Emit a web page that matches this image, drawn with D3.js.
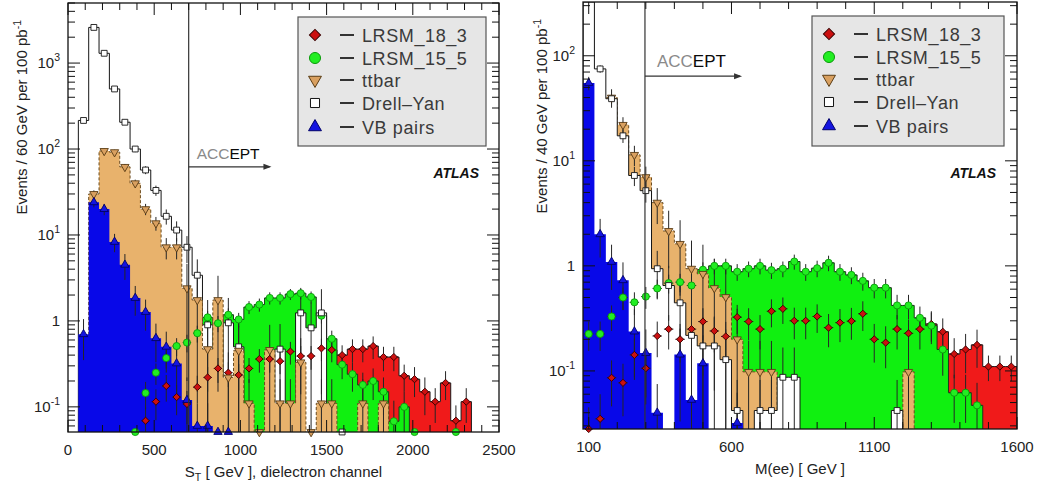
<!DOCTYPE html>
<html>
<head>
<meta charset="utf-8">
<script src="https://cdn.jsdelivr.net/npm/d3@7"></script>
<style>
  body { margin: 0; background: #fff; }
  svg { display: block; font-family: "Liberation Sans", Arial, sans-serif; }
</style>
</head>
<body>
<div id="chart"></div>
<script>
// ---- S_T panel: 60 GeV bins starting at 0 ----
const stBinStart = 0, stBinWidth = 60;
const stDrellYan    = [null, 215, 2600, 1300, 500, 205, 100, 57, 33, 16.5, 11.4, 7.2, 3.4, 0.9, null, 0.95, 0.5, null, null, null, 0.47, null, 1.24, 0.83, 1.24, null, 0, null, null, null, null, null, null, null, null, null, null, null, null];
const stDrellYanErr = [null, 12, 50, 35, 20, 12, 8, 6, 4.5, 3.3, 3, 2.5, 1.8, 0.85, null, 0.9, 0.48, null, null, null, 0.45, null, 1.1, 0.8, 1.1, null, null, null, null, null, null, null, null, null, null, null, null, null, null];
const stTtbar       = [null, null, 30, 95, 92, 62, 40, 20, 13.7, 7.2, 7.2, 2.4, 1.75, 0.47, 1.75, 0.22, 0.45, 0.11, 0, 0.46, 0.11, 0.11, 0.33, 0, 0.11, 0.11, null, null, 0.11, null, 0.11, null, null, null, null, null, null, null, null];
const stTtbarErr    = [null, null, 3, 6, 6, 5, 4, 3, 2.5, 2, 2, 2.2, 1.6, 0.45, 1.6, 0.21, 0.42, 0.1, null, 0.44, 0.1, 0.1, 0.3, null, 0.1, 0.1, null, null, 0.1, null, 0.1, null, null, null, null, null, null, null, null];
const stVBPairs     = [null, 0.7, 24, 20, 8.3, 4.5, 1.85, 1.27, 0.63, 0.5, 0.32, 0.12, 0.06, 0.06, 0, 0, null, null, null, null, null, null, null, null, null, null, null, null, null, null, null, null, null, null, null, null, null, null, null];
const stVBPairsErr  = [null, 0.35, 3, 3, 2, 1.5, 0.7, 0.5, 0.3, 0.25, 0.2, 0.1, 0.05, 0.05, null, null, null, null, null, null, null, null, null, null, null, null, null, null, null, null, null, null, null, null, null, null, null, null, null];
const stLRSM155     = [null, null, null, null, null, null, 0, 0.145, 0.25, 0.37, 0.51, 0.56, 0.72, 1.1, 0.94, 1.18, 1.04, 1.45, 1.55, 1.85, 1.85, 2.05, 2.1, 1.9, 1.15, 0.62, 0.31, 0.24, 0.18, 0.2, 0.15, 0.068, 0.1, 0, null, null, null, 0, null];
const stLRSM155Err  = [null, null, null, null, null, null, null, 0.05, 0.07, 0.09, 0.12, 0.13, 0.16, 0.2, 0.2, 0.22, 0.2, 0.25, 0.27, 0.3, 0.3, 0.3, 0.32, 0.3, 0.22, 0.15, 0.1, 0.09, 0.07, 0.08, 0.07, 0.05, 0.05, null, null, null, null, null, null];
const stLRSM183     = [null, null, null, null, null, null, null, 0.069, 0.115, 0.175, 0.13, 0.108, 0.17, 0.22, 0.28, 0.25, 0.235, 0.28, 0.36, 0.36, 0.34, 0.44, 0.39, 0.39, 0.48, 0.46, 0.4, 0.47, 0.47, 0.51, 0.38, 0.38, 0.23, 0.21, 0.15, 0.115, 0.19, 0.069, 0.115];
const stLRSM183Err  = [null, null, null, null, null, null, null, 0.03, 0.045, 0.06, 0.05, 0.045, 0.06, 0.07, 0.09, 0.08, 0.08, 0.09, 0.11, 0.11, 0.1, 0.13, 0.12, 0.12, 0.14, 0.13, 0.12, 0.14, 0.14, 0.15, 0.12, 0.12, 0.08, 0.08, 0.07, 0.05, 0.07, 0.035, 0.05];

// ---- M(ee) panel: 40 GeV bins starting at 80 ----
const meeBinStart = 80, meeBinWidth = 40;
const meeDrellYan    = [5000, 75, 39, 17.3, 7.25, 5.2, 0.94, 0.65, 0.445, 0.218, 0.173, 0.173, 0.128, 0.042, null, 0.042, 0.042, 0.087, 0.087, null, null, null, null, null, null, null, null, 0.042, null, null, null, null, null, null, null, null, null, null];
const meeDrellYanErr = [null, 6, 4, 2.5, 1.5, 1.2, 0.45, 0.35, 0.3, 0.18, 0.15, 0.15, 0.12, 0.04, null, 0.04, 0.04, 0.08, 0.08, null, null, null, null, null, null, null, null, 0.04, null, null, null, null, null, null, null, null, null, null];
const meeTtbar       = [null, null, 40, 22, 11.4, 7.0, 4.0, 2.15, 1.62, 0.94, 0.84, 0.615, 0.505, 0.2, 0.098, 0.098, 0.098, null, null, null, null, null, null, null, null, null, null, null, 0.098, null, null, null, null, null, null, null, null, null];
const meeTtbarErr    = [null, null, 8, 4, 2.5, 1.8, 1.5, 1.2, 1.1, 0.8, 0.75, 0.55, 0.48, 0.19, 0.095, 0.095, 0.095, null, null, null, null, null, null, null, null, null, null, null, 0.095, null, null, null, null, null, null, null, null, null];
const meeVBPairs     = [55, 2.0, 1.09, 0.73, 0.237, 0.148, 0.04, null, 0.143, 0.053, 0.118, null, null, 0.032, null, null, null, null, null, null, null, null, null, null, null, null, null, null, null, null, null, null, null, null, null, null, null, null];
const meeVBPairsErr  = [8, 0.8, 0.5, 0.35, 0.15, 0.1, 0.035, null, 0.11, 0.045, 0.1, null, null, 0.03, null, null, null, null, null, null, null, null, null, null, null, null, null, null, null, null, null, null, null, null, null, null, null, null];
const meeLRSM155     = [0.225, 0.225, 0.33, 0.50, 0.45, 0.51, 0.61, 0.685, 0.70, 0.65, 0.92, 1.0, 1.0, 0.88, 0.94, 1.0, 0.91, 0.94, 1.1, 0.88, 0.95, 1.07, 0.88, 0.82, 0.72, 0.62, 0.62, 0.42, 0.42, 0.32, 0.27, 0.16, 0.062, 0.062, 0.047, null, null, null];
const meeLRSM155Err  = [0.07, 0.07, 0.09, 0.12, 0.11, 0.12, 0.13, 0.14, 0.14, 0.13, 0.16, 0.17, 0.17, 0.16, 0.16, 0.17, 0.16, 0.16, 0.18, 0.16, 0.17, 0.18, 0.16, 0.15, 0.14, 0.13, 0.13, 0.11, 0.11, 0.09, 0.09, 0.07, 0.03, 0.03, 0.03, null, null, null];
const meeLRSM183     = [0, 0.035, 0.086, 0.077, 0.142, 0.106, 0.215, 0.25, 0.2, 0.25, 0.295, 0.24, 0.213, 0.325, 0.295, 0.25, 0.37, 0.39, 0.3, 0.3, 0.33, 0.258, 0.288, 0.298, 0.35, 0.2, 0.186, 0.25, 0.228, 0.25, 0.28, 0.236, 0.145, 0.16, 0.177, 0.11, 0.11, 0.11];
const meeLRSM183Err  = [0.045, 0.025, 0.04, 0.04, 0.06, 0.05, 0.08, 0.09, 0.08, 0.09, 0.1, 0.09, 0.08, 0.1, 0.1, 0.09, 0.11, 0.11, 0.1, 0.1, 0.1, 0.09, 0.1, 0.1, 0.11, 0.08, 0.08, 0.09, 0.08, 0.09, 0.09, 0.08, 0.06, 0.065, 0.07, 0.03, 0.03, 0.03];

// axis ticks and labels
const stXTicks = [0, 500, 1000, 1500, 2000, 2500];
const meeXTicks = [100, 600, 1100, 1600];
const stYTicks = [0.1, 1, 10, 100, 1000];
const meeYTicks = [0.1, 1, 10, 100];
const legendNames = ['LRSM_18_3', 'LRSM_15_5', 'ttbar', 'Drell\u2013Yan', 'VB pairs'];

// acceptance cuts: [cut, arrow end, arrow height]
const stAccept = [700, 1180, 62];
const meeAccept = [297, 637, 64];

const width = 1038, height = 485;

const style = {
  red:   { fill: '#f01a1a', stroke: '#1a1a1a', dash: null, sym: 'diamond', mFill: '#cc1010', mStroke: '#3a0000', cross: true },
  green: { fill: '#10f010', stroke: '#1c3a1c', dash: null, sym: 'circle', mFill: '#22ee22', mStroke: '#0a9a0a', cross: true },
  tt:    { fill: '#e8b26c', stroke: '#6b4b1f', dash: '3,2', sym: 'tdown', mFill: '#d9a060', mStroke: '#5a3c14', cross: false },
  dy:    { fill: '#ffffff', stroke: '#151515', dash: null, sym: 'square', mFill: '#ffffff', mStroke: '#151515', cross: false },
  vb:    { fill: '#0808e8', stroke: 'none', dash: null, sym: 'tup', mFill: '#1414e0', mStroke: '#00006a', cross: false }
};
const legendKeys = ['red', 'green', 'tt', 'dy', 'vb'];

const svg = d3.select('div#chart').append('svg')
  .attr('width', width)
  .attr('height', height);

function markerPath(sym, k) {
  k = k || 1;
  if (sym === 'diamond') return { d: d3.symbol(d3.symbolSquare, 26 * k * k)(), rot: 45 };
  if (sym === 'circle') return { d: d3.symbol(d3.symbolCircle, 40 * k * k)(), rot: 0 };
  if (sym === 'square') return { d: d3.symbol(d3.symbolSquare, 34 * k * k)(), rot: 0 };
  if (sym === 'tdown') return { d: d3.symbol(d3.symbolTriangle, 30 * k * k)(), rot: 180 };
  return { d: d3.symbol(d3.symbolTriangle, 30 * k * k)(), rot: 0 };
}

function drawPanel(p) {
  const f = p.frame;
  const x = d3.scaleLinear().domain(p.xDomain).range([f.x0, f.x1]);
  const y = d3.scaleLog().domain(p.yDomain).range([f.y1, f.y0]).clamp(true);
  const g = svg.append('g');

  const clipId = 'clip-' + p.id;
  svg.append('defs').append('clipPath').attr('id', clipId)
    .append('rect').attr('x', f.x0).attr('y', f.y0)
    .attr('width', f.x1 - f.x0).attr('height', f.y1 - f.y0);

  const plot = g.append('g').attr('clip-path', 'url(#' + clipId + ')');
  const yBase = f.y1 + 3;

  // filled histograms, back to front
  p.series.forEach(s => {
    const st = style[s.key];
    let d = '', open = false, lastX = 0;
    s.values.forEach((v, i) => {
      const xa = x(p.binStart + i * p.binWidth), xb = x(p.binStart + (i + 1) * p.binWidth);
      if (v != null && v > 0) {
        const yy = y(v);
        d += open ? `L${xa},${yy}` : `M${xa},${yBase}L${xa},${yy}`;
        d += `L${xb},${yy}`;
        open = true; lastX = xb;
      } else if (open) {
        d += `L${lastX},${yBase}Z`; open = false;
      }
    });
    if (open) d += `L${lastX},${yBase}Z`;
    plot.append('path')
      .attr('d', d)
      .attr('fill', st.fill)
      .attr('stroke', st.stroke)
      .attr('stroke-width', 1)
      .attr('stroke-dasharray', st.dash);
  });

  // error bars
  p.series.forEach(s => {
    const st = style[s.key];
    s.values.forEach((v, i) => {
      if (v == null || v > p.yDomain[1]) return;
      const xa = x(p.binStart + i * p.binWidth), xb = x(p.binStart + (i + 1) * p.binWidth);
      const xm = (xa + xb) / 2;
      const yy = v > 0 ? y(v) : f.y1;
      const e = s.errors[i];
      if (e != null) {
        const lo = v - e > 0 ? y(v - e) : f.y1;
        plot.append('line')
          .attr('x1', xm).attr('x2', xm)
          .attr('y1', lo).attr('y2', y(v + e))
          .attr('stroke', '#262626').attr('stroke-width', 1);
      }
      if (st.cross && v > 0) {
        plot.append('line')
          .attr('x1', xa + 1).attr('x2', xb - 1)
          .attr('y1', yy).attr('y2', yy)
          .attr('stroke', '#262626').attr('stroke-width', 1);
      }
    });
  });

  // markers
  p.series.forEach(s => {
    const st = style[s.key];
    const m = markerPath(st.sym);
    s.values.forEach((v, i) => {
      if (v == null || v > p.yDomain[1]) return;
      const xm = x(p.binStart + (i + 0.5) * p.binWidth);
      const yy = v > 0 ? y(v) : f.y1;
      g.append('path')
        .attr('d', m.d)
        .attr('transform', `translate(${xm},${yy}) rotate(${m.rot})`)
        .attr('fill', st.mFill)
        .attr('stroke', st.mStroke)
        .attr('stroke-width', 0.9);
    });
  });

  // acceptance line and arrow
  const cx = x(p.accept[0]), ax = x(p.accept[1]), ay = y(p.accept[2]);
  g.append('line').attr('x1', cx).attr('x2', cx).attr('y1', f.y0).attr('y2', f.y1)
    .attr('stroke', '#333').attr('stroke-width', 1.2);
  g.append('line').attr('x1', cx).attr('x2', ax - 2).attr('y1', ay).attr('y2', ay)
    .attr('stroke', '#333').attr('stroke-width', 1.2);
  g.append('path')
    .attr('d', `M${ax},${ay}L${ax - 8},${ay - 3}L${ax - 8},${ay + 3}Z`)
    .attr('fill', '#333');
  const acc = g.append('text')
    .attr('x', cx + p.acceptDx).attr('y', ay - p.acceptDy)
    .attr('font-size', p.acceptSize + 'px');
  acc.append('tspan').attr('fill', '#8a8a8a').text('ACC');
  acc.append('tspan').attr('fill', '#0a0a0a').text('EPT');

  // ticks
  const major = 12, minor = 7;
  const ticks = g.append('g').attr('stroke', '#111').attr('stroke-width', 1);
  d3.range(p.xMinor[0], p.xMinor[1] + 1, p.xMinor[2]).forEach(v => {
    const len = p.xTicks.includes(v) ? major : minor;
    const xx = x(v);
    ticks.append('line').attr('x1', xx).attr('x2', xx).attr('y1', f.y1).attr('y2', f.y1 - len);
    ticks.append('line').attr('x1', xx).attr('x2', xx).attr('y1', f.y0).attr('y2', f.y0 + len);
  });
  const lo = Math.floor(Math.log10(p.yDomain[0])), hi = Math.ceil(Math.log10(p.yDomain[1]));
  for (let dcd = lo; dcd <= hi; dcd++) {
    for (let k = 1; k <= 9; k++) {
      const v = k * Math.pow(10, dcd);
      if (v < p.yDomain[0] || v > p.yDomain[1]) continue;
      const len = k === 1 ? major : minor;
      const yy = y(v);
      ticks.append('line').attr('x1', f.x0).attr('x2', f.x0 + len).attr('y1', yy).attr('y2', yy);
      ticks.append('line').attr('x1', f.x1).attr('x2', f.x1 - len).attr('y1', yy).attr('y2', yy);
    }
  }

  // tick labels
  p.xTicks.forEach(v => {
    g.append('text')
      .attr('x', x(v)).attr('y', f.y1 + 23)
      .attr('text-anchor', 'middle')
      .attr('font-size', '15px').attr('fill', '#222')
      .text(v);
  });
  p.yTicks.forEach(v => {
    const t = g.append('text')
      .attr('x', f.x0 - 8).attr('y', y(v) + 5)
      .attr('text-anchor', 'end')
      .attr('font-size', '15px').attr('fill', '#222');
    if (v === 1) { t.text('1'); return; }
    t.append('tspan').text('10');
    t.append('tspan').attr('dy', -7).attr('font-size', '10.5px').text(Math.round(Math.log10(v)));
  });

  // axis titles
  const yt = g.append('text')
    .attr('transform', `translate(${p.yTitleX},${f.y0 + 17}) rotate(-90)`)
    .attr('text-anchor', 'end')
    .attr('font-size', '15px').attr('fill', '#222');
  yt.append('tspan').text(p.yTitle);
  yt.append('tspan').attr('dy', -6).attr('font-size', '10.5px').text('-1');

  const xt = g.append('text')
    .attr('x', (f.x0 + f.x1) / 2).attr('y', f.y1 + 45)
    .attr('text-anchor', 'middle')
    .attr('font-size', '15px').attr('fill', '#222');
  p.xTitle.forEach(part => {
    const ts = xt.append('tspan').text(part.t);
    if (part.sub) ts.attr('font-size', '10.5px').attr('dy', 4);
    if (part.back) ts.attr('dy', -4);
  });

  // frame
  g.append('rect')
    .attr('x', f.x0).attr('y', f.y0)
    .attr('width', f.x1 - f.x0).attr('height', f.y1 - f.y0)
    .attr('fill', 'none').attr('stroke', '#111').attr('stroke-width', 1.3);

  // ATLAS label
  g.append('text')
    .attr('x', p.atlas[0]).attr('y', p.atlas[1])
    .attr('text-anchor', 'end')
    .attr('font-size', '14px').attr('font-weight', 'bold').attr('font-style', 'italic')
    .attr('fill', '#111')
    .text('ATLAS');

  // legend
  const L = p.legend;
  const lg = g.append('g').attr('transform', `translate(${L.x},${L.y})`);
  lg.append('rect').attr('width', L.w).attr('height', L.h)
    .attr('fill', '#e6e6e6').attr('stroke', '#555').attr('stroke-width', 1.2);
  const rows = [18, 41, 63, 86, 110];
  legendKeys.forEach((key, i) => {
    const st = style[key];
    const m = markerPath(st.sym, 1.55);
    lg.append('path')
      .attr('d', m.d)
      .attr('transform', `translate(17,${rows[i]}) rotate(${m.rot})`)
      .attr('fill', st.mFill).attr('stroke', st.mStroke).attr('stroke-width', 1);
    lg.append('line')
      .attr('x1', 42).attr('x2', 56).attr('y1', rows[i]).attr('y2', rows[i])
      .attr('stroke', '#333').attr('stroke-width', 2);
    lg.append('text')
      .attr('x', 64).attr('y', rows[i] + 6.5)
      .attr('font-size', '18px').attr('letter-spacing', '0.6px')
      .attr('fill', '#3a3a3a')
      .text(legendNames[i]);
  });
}

drawPanel({
  id: 'st',
  frame: { x0: 68, x1: 499, y0: 3, y1: 432 },
  xDomain: [0, 2500], yDomain: [0.051, 5000],
  binStart: stBinStart, binWidth: stBinWidth,
  series: [
    { key: 'red', values: stLRSM183, errors: stLRSM183Err },
    { key: 'green', values: stLRSM155, errors: stLRSM155Err },
    { key: 'dy', values: stDrellYan, errors: stDrellYanErr },
    { key: 'tt', values: stTtbar, errors: stTtbarErr },
    { key: 'vb', values: stVBPairs, errors: stVBPairsErr }
  ],
  xTicks: stXTicks, xMinor: [0, 2500, 100], yTicks: stYTicks,
  accept: stAccept, acceptDx: 8, acceptDy: 8, acceptSize: 15.5,
  yTitle: 'Events / 60 GeV per 100 pb', yTitleX: 27,
  xTitle: [{ t: 'S' }, { t: 'T', sub: true }, { t: ' [ GeV ], dielectron channel', back: true }],
  atlas: [479, 178],
  legend: { x: 298, y: 17, w: 188, h: 129 }
});

drawPanel({
  id: 'mee',
  frame: { x0: 583, x1: 1017, y0: 2, y1: 429 },
  xDomain: [80, 1600], yDomain: [0.028, 325],
  binStart: meeBinStart, binWidth: meeBinWidth,
  series: [
    { key: 'red', values: meeLRSM183, errors: meeLRSM183Err },
    { key: 'green', values: meeLRSM155, errors: meeLRSM155Err },
    { key: 'tt', values: meeTtbar, errors: meeTtbarErr },
    { key: 'dy', values: meeDrellYan, errors: meeDrellYanErr },
    { key: 'vb', values: meeVBPairs, errors: meeVBPairsErr }
  ],
  xTicks: meeXTicks, xMinor: [100, 1600, 100], yTicks: meeYTicks,
  accept: meeAccept, acceptDx: 12, acceptDy: 9, acceptSize: 17,
  yTitle: 'Events / 40 GeV per 100 pb', yTitleX: 547,
  xTitle: [{ t: 'M(ee) [ GeV ]' }],
  atlas: [996, 178],
  legend: { x: 812, y: 16, w: 192, h: 130 }
});
</script>
</body>
</html>
